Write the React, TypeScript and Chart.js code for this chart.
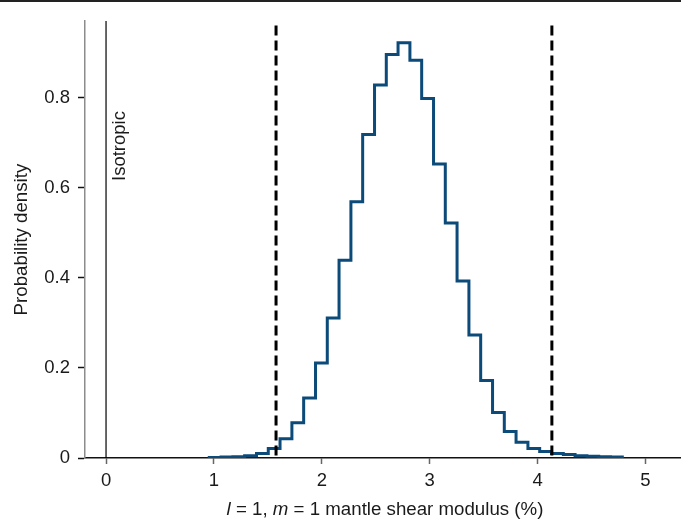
import { useEffect, useRef } from 'react'
import { Chart, registerables } from 'chart.js'

Chart.register(...registerables)

// histogram bin edges (%), 35 bins
const BIN_EDGES = [
  0.957, 1.066, 1.176, 1.285, 1.395, 1.504, 1.613, 1.723, 1.832, 1.942,
  2.051, 2.160, 2.270, 2.379, 2.489, 2.598, 2.707, 2.817, 2.926, 3.036,
  3.145, 3.254, 3.364, 3.473, 3.583, 3.692, 3.801, 3.911, 4.020, 4.130,
  4.239, 4.348, 4.458, 4.567, 4.677, 4.786,
]
// probability density per bin
const DENSITY = [
  0.001, 0.002, 0.003, 0.005, 0.010, 0.021, 0.043, 0.078, 0.133, 0.211,
  0.311, 0.439, 0.569, 0.718, 0.828, 0.896, 0.922, 0.883, 0.798, 0.653,
  0.522, 0.393, 0.273, 0.172, 0.101, 0.059, 0.035, 0.021, 0.0145, 0.010,
  0.008, 0.005, 0.004, 0.003, 0.002,
]
const X_TICKS = [0, 1, 2, 3, 4, 5]
const X_TICK_LABELS = ['0', '1', '2', '3', '4', '5']
const Y_TICKS = [0, 0.2, 0.4, 0.6, 0.8]
const Y_TICK_LABELS = ['0', '0.2', '0.4', '0.6', '0.8']
const BOUNDS = [1.576, 4.133]
const ISOTROPIC = 0

const X_MIN = -0.195
const X_MAX = 5.33
const Y_MAX = 0.97

const FONT = "'Liberation Sans', Arial, Helvetica, sans-serif"
const TEXT = '#1a1a1a'
const BLUE = '#0b4a79'

const annotations = {
  id: 'annotations',
  afterDraw(chart: any) {
    const { ctx, chartArea, scales } = chart
    ctx.save()
    ctx.fillStyle = TEXT
    ctx.font = `18.5px ${FONT}`
    ctx.translate(scales.x.getPixelForValue(ISOTROPIC) + 14, scales.y.getPixelForValue(0.615))
    ctx.rotate(-Math.PI / 2)
    ctx.textAlign = 'left'
    ctx.textBaseline = 'middle'
    ctx.fillText('Isotropic', 0, 0)
    ctx.restore()

    // x title with italic l and m
    const parts = [
      { t: 'l', it: true },
      { t: ' = 1, ', it: false },
      { t: 'm', it: true },
      { t: ' = 1 mantle shear modulus (%)', it: false },
    ]
    ctx.save()
    ctx.fillStyle = TEXT
    ctx.textBaseline = 'middle'
    ctx.textAlign = 'left'
    const widths = parts.map(p => {
      ctx.font = `${p.it ? 'italic ' : ''}18.7px ${FONT}`
      return ctx.measureText(p.t).width
    })
    const total = widths.reduce((a, b) => a + b, 0)
    let x = (chartArea.left + chartArea.right) / 2 + 2 - total / 2
    const y = chart.height - 10
    parts.forEach((p, i) => {
      ctx.font = `${p.it ? 'italic ' : ''}18.7px ${FONT}`
      ctx.fillText(p.t, x, y)
      x += widths[i]
    })
    ctx.restore()
  },
}

export default function App() {
  const canvasRef = useRef<HTMLCanvasElement>(null)
  const chartRef = useRef<any>(null)

  useEffect(() => {
    document.body.style.margin = '0'
    if (!canvasRef.current) return

    const steps = [{ x: BIN_EDGES[0], y: 0 }]
    DENSITY.forEach((d, i) => steps.push({ x: BIN_EDGES[i], y: d }))
    steps.push({ x: BIN_EDGES[BIN_EDGES.length - 1], y: DENSITY[DENSITY.length - 1] })
    steps.push({ x: BIN_EDGES[BIN_EDGES.length - 1], y: 0 })

    if (chartRef.current) chartRef.current.destroy()

    chartRef.current = new Chart(canvasRef.current, {
      type: 'line',
      data: {
        datasets: [
          ...BOUNDS.map(b => ({
            data: [{ x: b, y: 0.96 }, { x: b, y: 0 }],
            borderColor: '#000',
            borderWidth: 3,
            borderDash: [10, 5],
            pointRadius: 0,
            order: 0,
          })),
          {
            data: steps,
            stepped: 'before' as const,
            borderColor: BLUE,
            borderWidth: 3,
            borderJoinStyle: 'miter' as const,
            pointRadius: 0,
            fill: false,
            order: 1,
          },
          {
            data: [{ x: ISOTROPIC, y: 0 }, { x: ISOTROPIC, y: Y_MAX }],
            borderColor: '#000',
            borderWidth: 1.2,
            pointRadius: 0,
            order: 2,
          },
        ],
      },
      options: {
        animation: false,
        responsive: true,
        maintainAspectRatio: false,
        layout: { padding: { top: 10, right: 0, left: 0, bottom: 0 } },
        plugins: { legend: { display: false }, tooltip: { enabled: false } },
        scales: {
          x: {
            type: 'linear',
            min: X_MIN,
            max: X_MAX,
            afterBuildTicks: (axis: any) => { axis.ticks = X_TICKS.map(v => ({ value: v })) },
            afterFit: (axis: any) => { axis.height = 62 },
            ticks: {
              color: TEXT,
              font: { family: FONT, size: 18.5 },
              padding: 6,
              maxRotation: 0,
              callback: (v: any) => X_TICK_LABELS[X_TICKS.indexOf(Number(v))] ?? '',
            },
            grid: { drawOnChartArea: false, drawTicks: true, tickLength: 6, tickColor: '#666', tickWidth: 1.5 },
            border: { display: true, color: '#111', width: 1.5 },
          },
          y: {
            type: 'linear',
            min: 0,
            max: Y_MAX,
            afterBuildTicks: (axis: any) => { axis.ticks = Y_TICKS.map(v => ({ value: v })) },
            afterFit: (axis: any) => { axis.width = 85 },
            ticks: {
              color: TEXT,
              font: { family: FONT, size: 18.5 },
              padding: 8,
              callback: (v: any) => Y_TICK_LABELS[Y_TICKS.indexOf(Number(v))] ?? '',
            },
            title: {
              display: true,
              text: 'Probability density',
              color: TEXT,
              font: { family: FONT, size: 18.7 },
              padding: { top: 11, bottom: 0 },
            },
            grid: { drawOnChartArea: false, drawTicks: true, tickLength: 7, tickColor: '#111', tickWidth: 1.5 },
            border: { display: true, color: '#8c8c8c', width: 1.5 },
          },
        },
      },
      plugins: [annotations],
    })

    return () => { if (chartRef.current) chartRef.current.destroy() }
  }, [])

  return (
    <div style={{ width: 681, height: 518, borderTop: '2px solid #222' }}>
      <canvas ref={canvasRef} />
    </div>
  )
}
